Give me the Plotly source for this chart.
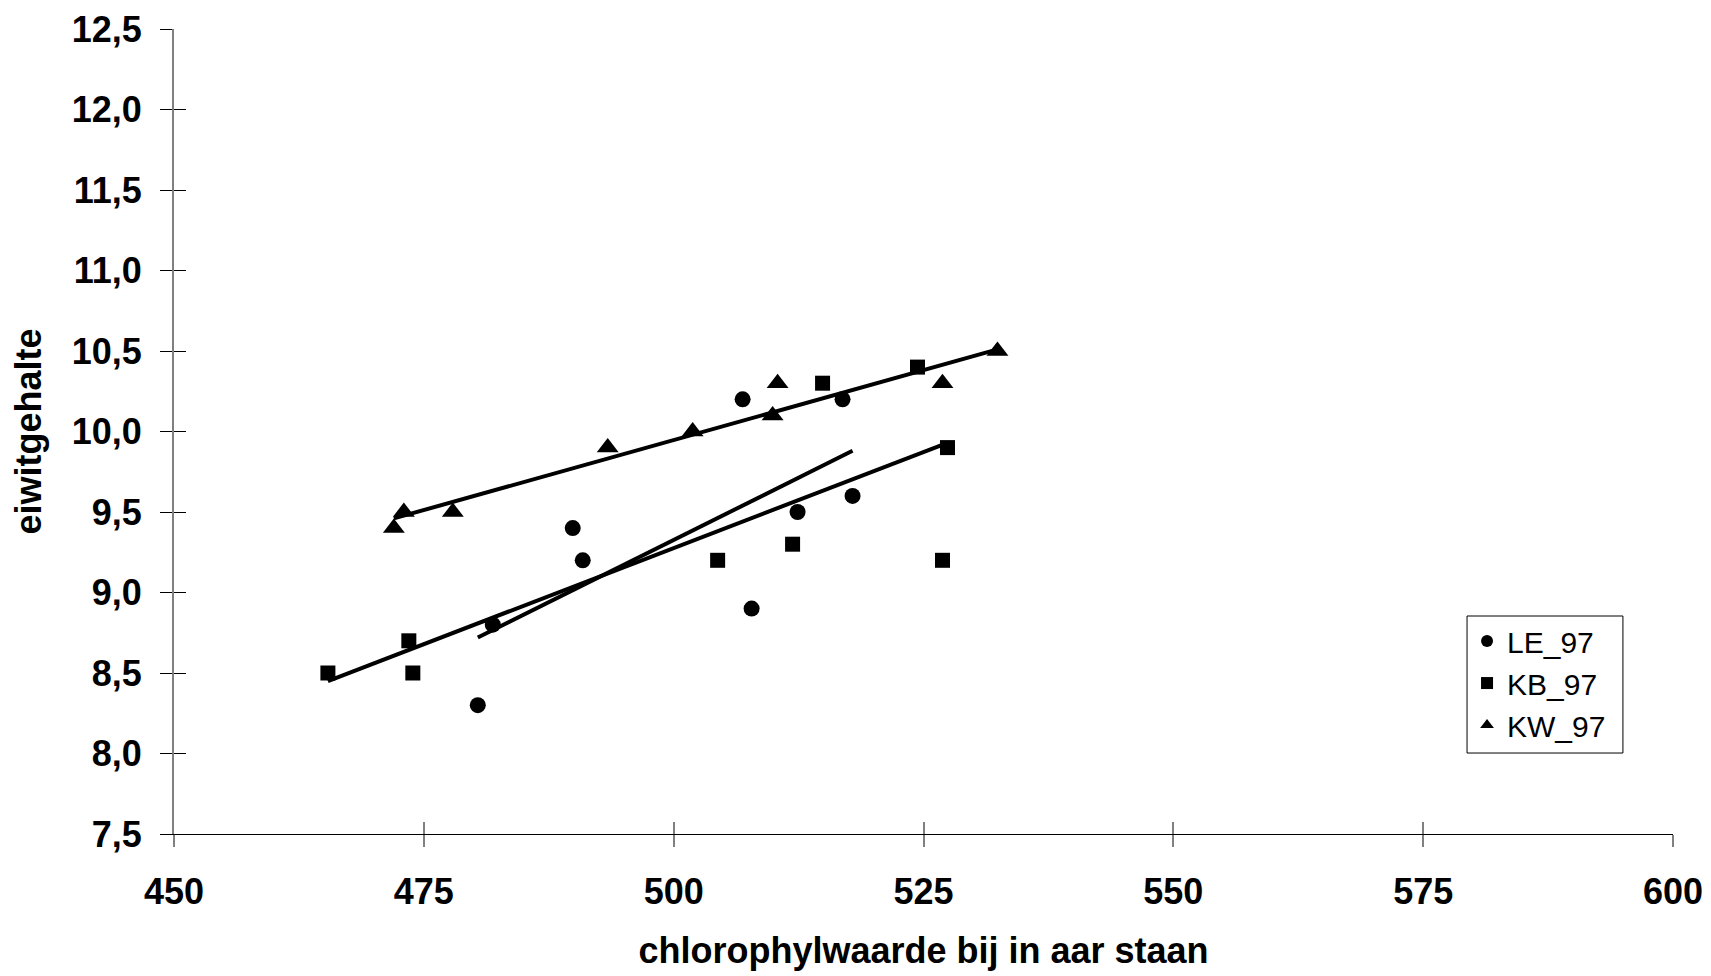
import plotly.graph_objects as go

# Chlorophyll reading at heading vs. protein content, three series (1997)
le_x = [480.4, 481.9, 489.9, 490.9, 506.9, 507.8, 512.4, 516.9, 517.9]
le_y = [8.3, 8.8, 9.4, 9.2, 10.2, 8.9, 9.5, 10.2, 9.6]

kb_x = [465.4, 473.5, 473.9, 504.4, 511.9, 514.9, 524.4, 526.9, 527.4]
kb_y = [8.5, 8.7, 8.5, 9.2, 9.3, 10.3, 10.4, 9.2, 9.9]

kw_x = [472.0, 473.0, 477.9, 493.4, 501.9, 509.9, 510.4, 526.9, 532.4]
kw_y = [9.4, 9.5, 9.5, 9.9, 10.0, 10.1, 10.3, 10.3, 10.5]

# Linear trend lines (start/end values) for each series
le_trend_x = [480.4, 517.9]
le_trend_y = [8.72, 9.88]
kb_trend_x = [465.4, 527.4]
kb_trend_y = [8.45, 9.93]
kw_trend_x = [472.0, 532.4]
kw_trend_y = [9.46, 10.51]

x_ticks = [450, 475, 500, 525, 550, 575, 600]
y_ticks = [7.5, 8.0, 8.5, 9.0, 9.5, 10.0, 10.5, 11.0, 11.5, 12.0, 12.5]

FONT = "Liberation Sans, Arial, sans-serif"

fig = go.Figure()

for tx, ty in [(le_trend_x, le_trend_y), (kb_trend_x, kb_trend_y), (kw_trend_x, kw_trend_y)]:
    fig.add_trace(go.Scatter(x=tx, y=ty, mode="lines", showlegend=False,
                             line=dict(color="black", width=4), hoverinfo="skip"))

fig.add_trace(go.Scatter(x=le_x, y=le_y, mode="markers", name="LE_97",
                         marker=dict(symbol="circle", size=16, color="black")))
fig.add_trace(go.Scatter(x=kb_x, y=kb_y, mode="markers", name="KB_97",
                         marker=dict(symbol="square", size=15, color="black")))
fig.add_trace(go.Scatter(x=kw_x, y=kw_y, mode="markers", name="KW_97",
                         marker=dict(symbol="triangle-up", size=19, color="black")))

# empty trace so the overlay axes (inner half of the crossing ticks) are drawn
fig.add_trace(go.Scatter(x=[None], y=[None], xaxis="x2", yaxis="y2",
                         showlegend=False, hoverinfo="skip"))

tick_font = dict(family=FONT, size=36, color="black", weight="bold")
title_font = dict(family=FONT, size=36, color="black", weight="bold")

fig.update_layout(
    width=1711, height=976,
    margin=dict(l=174, r=38, t=29, b=142),
    paper_bgcolor="white", plot_bgcolor="white",
    separators=",.",
    font=dict(family=FONT, color="black"),
    xaxis=dict(
        range=[450, 600], tickvals=x_ticks, tickformat="d",
        showgrid=False, zeroline=False, automargin=False,
        showline=True, linecolor="black", linewidth=1,
        ticks="outside", ticklen=12, tickwidth=2, tickcolor="#808080",
        tickfont=tick_font, ticklabelstandoff=14,
        title=dict(text="chlorophylwaarde bij in aar staan", font=title_font, standoff=26),
    ),
    yaxis=dict(
        range=[7.5, 12.5], tickvals=y_ticks, tickformat=".1f",
        showgrid=False, zeroline=False, automargin=False,
        showline=True, linecolor="#808080", linewidth=2,
        ticks="outside", ticklen=12, tickwidth=1, tickcolor="black",
        tickfont=tick_font, ticklabelstandoff=11,
        title=dict(text="eiwitgehalte", font=title_font, standoff=19),
    ),
    xaxis2=dict(
        range=[450, 600], tickvals=x_ticks, overlaying="x", anchor="y",
        showticklabels=False, showgrid=False, zeroline=False, showline=False,
        ticks="inside", ticklen=12, tickwidth=2, tickcolor="#808080",
    ),
    yaxis2=dict(
        range=[7.5, 12.5], tickvals=y_ticks, overlaying="y", anchor="x",
        showticklabels=False, showgrid=False, zeroline=False, showline=False,
        ticks="inside", ticklen=12, tickwidth=1, tickcolor="black",
    ),
    legend=dict(
        x=0.8626, y=0.272, xanchor="left", yanchor="top",
        bgcolor="rgba(0,0,0,0)", borderwidth=0,
        font=dict(family=FONT, size=30, color="black"),
        itemsizing="constant", tracegroupgap=0,
    ),
    # legend frame, a little wider than plotly's own box
    shapes=[dict(
        type="rect", xref="paper", yref="paper", layer="above",
        x0=0.8626, x1=0.9666, y0=0.1006, y1=0.2708,
        line=dict(color="black", width=1), fillcolor="white",
    )],
    showlegend=True,
)

fig.write_html("out.html")
